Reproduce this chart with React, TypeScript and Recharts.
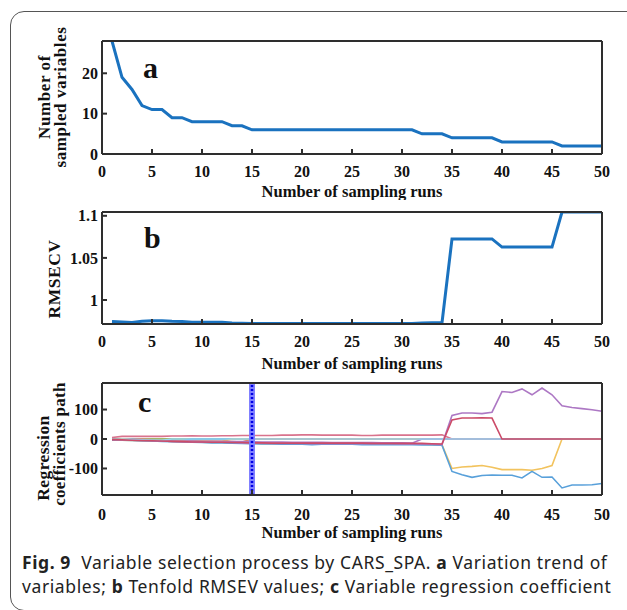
import React from 'react';
import { LineChart, Line, XAxis, YAxis, ReferenceLine, Label } from 'recharts';

const runs = [1,2,3,4,5,6,7,8,9,10,11,12,13,14,15,16,17,18,19,20,21,22,23,24,25,26,27,28,29,30,31,32,33,34,35,36,37,38,39,40,41,42,43,44,45,46,47,48,49,50];
const xTicks = [0,5,10,15,20,25,30,35,40,45,50];

const sampledVariables = [28,19,16,12,11,11,9,9,8,8,8,8,7,7,6,6,6,6,6,6,6,6,6,6,6,6,6,6,6,6,6,5,5,5,4,4,4,4,4,3,3,3,3,3,3,2,2,2,2,2];
const aTicks = [0,10,20];

const rmsecv = [0.9745,0.974,0.9733,0.9748,0.9755,0.9755,0.9748,0.9745,0.9735,0.9735,0.9735,0.9735,0.9728,0.9725,0.972,0.972,0.972,0.972,0.972,0.972,0.972,0.972,0.972,0.972,0.972,0.972,0.972,0.972,0.972,0.972,0.972,0.9728,0.973,0.973,1.0725,1.0725,1.0725,1.0725,1.0725,1.0628,1.0628,1.0628,1.0628,1.0628,1.0628,1.1045,1.1045,1.1045,1.1045,1.1045];
const bTicks = [1,1.05,1.1];

const cTicks = [-100,0,100];
const optimalRun = 15;

const coefBlue3 = [-1,-2,0,0,0,0,0,0,0,0,0,0,0,0,0,0,0,0,0,0,0,0,0,0,0,0,0,0,0,0,0,0,0,0,0,0,0,0,0,0,0,0,0,0,0,0,0,0,0,0];
const coefOrange2 = [-1,-2,-2,0,0,0,0,0,0,0,0,0,0,0,0,0,0,0,0,0,0,0,0,0,0,0,0,0,0,0,0,0,0,0,0,0,0,0,0,0,0,0,0,0,0,0,0,0,0,0];
const coefGreen = [-1,-2,-3,-3,0,0,0,0,0,0,0,0,0,0,0,0,0,0,0,0,0,0,0,0,0,0,0,0,0,0,0,0,0,0,0,0,0,0,0,0,0,0,0,0,0,0,0,0,0,0];
const coefBlue2 = [-2,-3,-3,-4,-4,-5,-5,-6,0,0,0,0,0,0,0,0,0,0,0,0,0,0,0,0,0,0,0,0,0,0,0,0,0,0,0,0,0,0,0,0,0,0,0,0,0,0,0,0,0,0];
const coefYellow2 = [-2,-3,-4,-4,-5,-5,-6,-6,-7,-7,-8,-8,0,0,0,0,0,0,0,0,0,0,0,0,0,0,0,0,0,0,0,0,0,0,0,0,0,0,0,0,0,0,0,0,0,0,0,0,0,0];
const coefOrange = [-2,-3,-4,-5,-5,-6,-6,-7,-7,-8,-8,-9,-9,-10,0,0,0,0,0,0,0,0,0,0,0,0,0,0,0,0,0,0,0,0,0,0,0,0,0,0,0,0,0,0,0,0,0,0,0,0];
const coefPurple2 = [-3,-4,-4,-5,-5,-6,-6,-7,-7,-8,-8,-8,-9,-9,-9,-10,-10,-10,-11,-11,-11,-11,-12,-12,-12,-12,-12,-13,-13,-13,-14,0,0,0,0,0,0,0,0,0,0,0,0,0,0,0,0,0,0,0];
const coefPink = [5,9,9,9,9,9,10,10,11,10,10,11,11,12,12,12,12,13,13,14,14,13,13,13,13,12,12,13,13,13,13,13,13,14,0,0,0,0,0,0,0,0,0,0,0,0,0,0,0,0];
const coefYellow = [-3,-4,-5,-6,-7,-7,-8,-9,-10,-11,-12,-12,-13,-14,-15,-16,-16,-16,-17,-17,-17,-17,-17,-17,-17,-17,-17,-18,-18,-18,-18,-18,-19,-20,-100,-95,-93,-90,-96,-104,-104,-104,-106,-100,-90,0,0,0,0,0];
const coefBlue = [-3,-4,-5,-6,-7,-8,-9,-10,-11,-12,-13,-13,-14,-15,-16,-17,-17,-18,-18,-18,-19,-18,-18,-18,-18,-19,-19,-19,-19,-19,-19,-20,-20,-21,-110,-121,-130,-124,-122,-123,-123,-132,-110,-130,-129,-166,-156,-156,-155,-151];
const coefPurple = [-2,-3,-4,-5,-6,-7,-8,-9,-10,-10,-11,-11,-12,-13,-14,-14,-15,-15,-15,-15,-16,-16,-16,-16,-16,-16,-16,-16,-16,-17,-17,-17,-18,-19,80,88,88,86,91,161,158,170,150,173,150,113,107,103,99,94];
const coefLightBlue = [-1,-2,-3,-3,-4,-4,0,0,0,0,0,0,0,0,0,0,0,0,0,0,0,0,0,0,0,0,0,0,0,0,0,0,0,0,0,0,0,0,0,0,0,0,0,0,0,0,0,0,0,0];
const coefRed = [-2,-3,-4,-5,-6,-7,-8,-9,-10,-10,-11,-11,-12,-12,-13,-13,-14,-14,-14,-14,-14,-14,-14,-14,-14,-14,-15,-15,-15,-15,-15,-15,-16,-17,65,71,71,72,71,0,0,0,0,0,0,0,0,0,0,0];

const coefSeries = [
  { key: 'blue3', values: coefBlue3, color: '#5aa3dc' },
  { key: 'orange2', values: coefOrange2, color: '#e58a5a' },
  { key: 'green', values: coefGreen, color: '#95c060' },
  { key: 'blue2', values: coefBlue2, color: '#5aa3dc' },
  { key: 'yellow2', values: coefYellow2, color: '#f2c35e' },
  { key: 'orange', values: coefOrange, color: '#e58a5a' },
  { key: 'purple2', values: coefPurple2, color: '#ad78c4' },
  { key: 'pink', values: coefPink, color: '#d9738d' },
  { key: 'yellow', values: coefYellow, color: '#f2c35e' },
  { key: 'blue', values: coefBlue, color: '#58a0da' },
  { key: 'purple', values: coefPurple, color: '#ad78c4' },
  { key: 'lightblue', values: coefLightBlue, color: '#94d5f2' },
  { key: 'red', values: coefRed, color: '#cc4b68' },
];

const dataA = runs.map((r, i) => ({ run: r, v: sampledVariables[i] }));
const dataB = runs.map((r, i) => ({ run: r, v: rmsecv[i] }));
const dataC = runs.map((r, i) => {
  const row: any = { run: r };
  coefSeries.forEach((s) => { row[s.key] = s.values[i]; });
  return row;
});

const SERIF = '"Liberation Serif", "Times New Roman", serif';
const FRAME = '#2e2e2e';
const tickStyle = { fontFamily: SERIF, fontWeight: 700, fontSize: 16, fill: '#111' };

const txt = (x: number, y: number, s: string, size: number, rotate = false, anchor: 'middle' | 'start' = 'middle', key?: string, spacing = 0) => (
  <text
    key={key}
    x={x}
    y={y}
    textAnchor={anchor}
    transform={rotate ? `rotate(-90 ${x} ${y})` : undefined}
    fontFamily={SERIF}
    fontWeight={700}
    fontSize={size}
    letterSpacing={spacing}
    fill="#111"
  >
    {s}
  </text>
);

function frameAxes(yDomain: number[], yTicks: number[]) {
  return [
    <XAxis key="xt" xAxisId="top" orientation="top" type="number" dataKey="run" domain={[0, 50]} ticks={xTicks} height={1} tick={false} tickSize={-5} axisLine={{ stroke: FRAME, strokeWidth: 2 }} tickLine={{ stroke: FRAME, strokeWidth: 2 }} />,
    <YAxis key="yr" yAxisId="right" orientation="right" type="number" domain={yDomain} ticks={yTicks} width={1} tick={false} tickSize={-5} axisLine={{ stroke: FRAME, strokeWidth: 2 }} tickLine={{ stroke: FRAME, strokeWidth: 2 }} allowDataOverflow />,
  ];
}

function PanelA() {
  return (
    <LineChart width={627} height={200} data={dataA} margin={{ top: 40, right: 24, left: 0, bottom: 0 }}>
      <XAxis type="number" dataKey="run" domain={[0, 50]} ticks={xTicks} height={46} tickSize={-5} tickMargin={17} tick={tickStyle} axisLine={{ stroke: FRAME, strokeWidth: 2 }} tickLine={{ stroke: FRAME, strokeWidth: 2 }}>
        <Label content={() => txt(352, 197, 'Number of sampling runs', 16.5)} />
      </XAxis>
      <YAxis type="number" domain={[0, 28]} ticks={aTicks} width={102} tickSize={-5} tickMargin={9} tick={tickStyle} axisLine={{ stroke: FRAME, strokeWidth: 2 }} tickLine={{ stroke: FRAME, strokeWidth: 2 }} allowDataOverflow>
        <Label content={() => (
          <g>
            {txt(50, 97, 'Number of', 17, true, 'middle', 'l1', 0.6)}
            {txt(66, 97, 'sampled variables', 17, true, 'middle', 'l2', 0.6)}
            {txt(143, 78, 'a', 30, false, 'start', 'l3')}
          </g>
        )} />
      </YAxis>
      {frameAxes([0, 28], aTicks)}
      <Line type="linear" dataKey="v" stroke="#1a72bf" strokeWidth={3} dot={false} isAnimationActive={false} />
    </LineChart>
  );
}

function PanelB() {
  return (
    <LineChart width={627} height={175} data={dataB} margin={{ top: 11, right: 24, left: 0, bottom: 0 }}>
      <XAxis type="number" dataKey="run" domain={[0, 50]} ticks={xTicks} height={51} tickSize={-5} tickMargin={17} tick={tickStyle} axisLine={{ stroke: FRAME, strokeWidth: 2 }} tickLine={{ stroke: FRAME, strokeWidth: 2 }}>
        <Label content={() => txt(352, 169, 'Number of sampling runs', 16.5)} />
      </XAxis>
      <YAxis type="number" domain={[0.9715, 1.1045]} ticks={bTicks} width={102} tickSize={-5} tickMargin={9} tick={tickStyle} axisLine={{ stroke: FRAME, strokeWidth: 2 }} tickLine={{ stroke: FRAME, strokeWidth: 2 }} allowDataOverflow>
        <Label content={() => (
          <g>
            {txt(60, 79, 'RMSECV', 17.5, true, 'middle', 'l1', 0.5)}
            {txt(144, 48, 'b', 30, false, 'start', 'l3')}
          </g>
        )} />
      </YAxis>
      {frameAxes([0.9715, 1.1045], bTicks)}
      <Line type="linear" dataKey="v" stroke="#1a72bf" strokeWidth={3} dot={false} isAnimationActive={false} />
    </LineChart>
  );
}

function PanelC() {
  return (
    <LineChart width={627} height={170} data={dataC} margin={{ top: 7, right: 24, left: 0, bottom: 0 }}>
      <XAxis type="number" dataKey="run" domain={[0, 50]} ticks={xTicks} height={50} tickSize={-5} tickMargin={19} tick={tickStyle} axisLine={{ stroke: FRAME, strokeWidth: 2 }} tickLine={{ stroke: FRAME, strokeWidth: 2 }}>
        <Label content={() => txt(352, 163, 'Number of sampling runs', 16.5)} />
      </XAxis>
      <YAxis type="number" domain={[-190, 190]} ticks={cTicks} width={102} tickSize={-5} tickMargin={9} tick={tickStyle} axisLine={{ stroke: FRAME, strokeWidth: 2 }} tickLine={{ stroke: FRAME, strokeWidth: 2 }} allowDataOverflow>
        <Label content={() => (
          <g>
            {txt(49, 83, 'Regression', 17.5, true, 'middle', 'l1', 0.4)}
            {txt(65, 69, 'coefficients path', 17, true, 'middle', 'l2', 0.3)}
            {txt(138, 37, 'c', 30, false, 'start', 'l3')}
          </g>
        )} />
      </YAxis>
      {frameAxes([-190, 190], cTicks)}
      {coefSeries.map((s) => (
        <Line key={s.key} type="linear" dataKey={s.key} stroke={s.color} strokeWidth={1.6} dot={false} isAnimationActive={false} />
      ))}
      <ReferenceLine x={optimalRun} stroke="#8080ff" strokeWidth={6} />
      <ReferenceLine x={optimalRun} stroke="#0000e6" strokeWidth={2.5} strokeDasharray="2 2" />
    </LineChart>
  );
}

export default function App() {
  return (
    <div style={{ position: 'absolute', left: 0, top: 0, width: 627, height: 610, overflow: 'hidden', background: '#fff' }}>
      <div style={{ position: 'absolute', left: 10, top: 11, width: 700, height: 600, border: '1.3px solid #555', borderRadius: 14, boxSizing: 'border-box' }} />
      <div style={{ position: 'absolute', left: 0, top: 0 }}><PanelA /></div>
      <div style={{ position: 'absolute', left: 0, top: 200 }}><PanelB /></div>
      <div style={{ position: 'absolute', left: 0, top: 375 }}><PanelC /></div>
      <div style={{ position: 'absolute', left: 22, top: 550, fontFamily: '"Noto Sans", sans-serif', fontSize: 17.5, letterSpacing: 0.6, lineHeight: '24px', color: '#222', whiteSpace: 'nowrap' }}>
        <div><b>Fig. 9</b>&nbsp; Variable selection process by CARS_SPA. <b>a</b> Variation trend of</div>
        <div>variables; <b>b</b> Tenfold RMSEV values; <b>c</b> Variable regression coefficient</div>
      </div>
    </div>
  );
}
